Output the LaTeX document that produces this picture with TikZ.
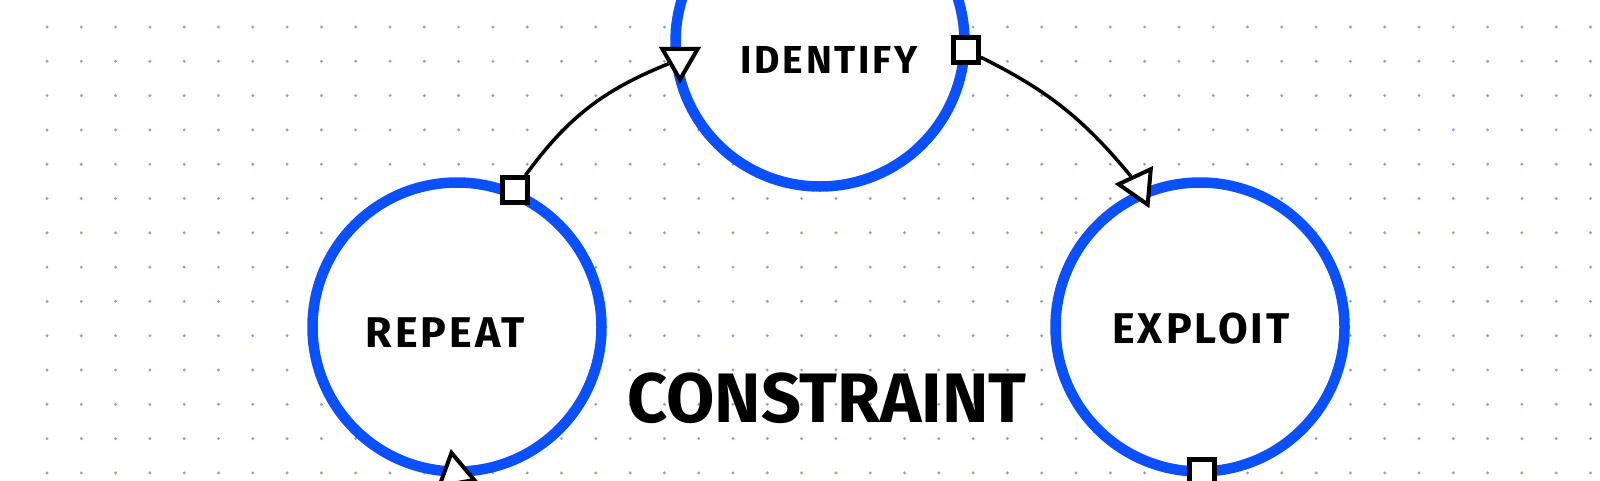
\documentclass[tikz,border=0pt]{standalone}
\usepackage{fontspec}
\setmainfont{Fira Sans}
\usetikzlibrary{shapes.geometric}
\definecolor{ringblue}{RGB}{10,80,255}
\definecolor{gridblue}{RGB}{140,160,210}

\begin{document}
\begin{tikzpicture}[x=1pt,y=-1pt,
  phase/.style={circle, draw=ringblue, fill=white, line width=10.5pt, minimum size=289pt, inner sep=0pt},
  outport/.style={rectangle, draw, fill=white, line width=4.5pt, minimum size=25pt, inner sep=0pt},
  inport/.style={regular polygon, regular polygon sides=3, draw, fill=white, line width=4pt, minimum size=41pt, inner sep=0pt},
  word/.style={font=\bfseries\fontsize{#1}{#1}\selectfont\addfontfeature{LetterSpace=7}, anchor=base, inner sep=0pt}]
 \clip (0,0) rectangle (1600,480);
 \fill[white] (0,0) rectangle (1600,480);
 \foreach \i in {0,...,45}
   \foreach \j in {0,...,13}
     \fill[gridblue] (47+34.3*\i, 27+34.3*\j) circle (1.6pt);

 \node (identify) [phase] at (820,42) {};
 \node (repeat) [phase] at (457,327) {};
 \node (exploit) [phase] at (1200,327) {};

 \node (identout) [outport] at (966,50) {};
 \node (repeatout) [outport] at (515,190) {};
 \node (exploitout) [outport] at (1202,472) {};
 \node (identin) [inport, rotate=-60] at (680,59) {};
 \node (exploitin) [inport, rotate=-155] at (1139,186) {};
 \node (repeatin) [inport, rotate=10] at (455,473) {};

 \draw[line width=3.5pt] (repeatout) to[bend left=16] (identin);
 \draw[line width=3.5pt] (identout) to[bend left=12] (exploitin);

 \node (identifytext) [word=39] at (829,73) {IDENTIFY};
 \node (repeattext) [word=43] at (445,347) {REPEAT};
 \node (exploittext) [word=43] at (1201,343) {EXPLOIT};
 \node (constrainttext) [word=70, font=\bfseries\fontsize{70}{70}\selectfont] at (827,422) {CONSTRAINT};
\end{tikzpicture}
\end{document}
